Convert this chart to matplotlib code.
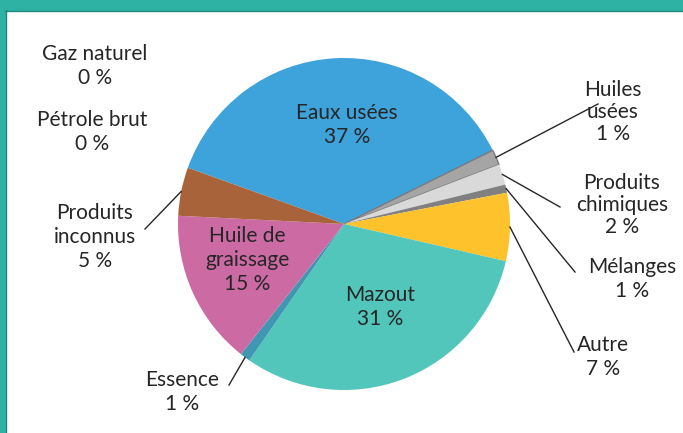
import matplotlib.pyplot as plt
import numpy as np
from matplotlib.patches import Rectangle

# data, clockwise from the first slice
categories = ['Eaux usées', 'Huiles usées', 'Produits chimiques', 'Mélanges', 'Autre',
              'Mazout', 'Essence', 'Huile de graissage', 'Produits inconnus',
              'Pétrole brut', 'Gaz naturel']
values = [37.1, 1.5, 2.0, 0.8, 6.6, 31.0, 1.0, 15.1, 4.7, 0.0, 0.0]
pct_labels = ['37 %', '1 %', '2 %', '1 %', '7 %', '31 %', '1 %', '15 %', '5 %', '0 %', '0 %']
colors = ['#3ea3db', '#a5a5a5', '#d9d9d9', '#808080', '#fec32c',
          '#52c6bb', '#3f97b2', '#cc6aa3', '#a8633a', '#888888', '#888888']

W, H = 683, 433
fig = plt.figure(figsize=(W / 100, H / 100), dpi=100)
ax = fig.add_axes([0, 0, 1, 1])
plt.rcParams['font.family'] = ['Lato', 'DejaVu Sans']

cx, cy, R = 344, H - 224, 166
wedges, _ = ax.pie(values, colors=colors, startangle=160.2, counterclock=False,
                   center=(cx, cy), radius=R,
                   wedgeprops=dict(linewidth=0, antialiased=True))
# thin darker border on the small grey slice, as in the source
wedges[1].set_edgecolor('#7a7a7a')
wedges[1].set_linewidth(1.0)

ax.set_xlim(0, W)
ax.set_ylim(0, H)
ax.set_aspect('equal')
ax.axis('off')

def img(x, y):
    return x, H - y

txt = dict(fontsize=15, color='#262626', ha='center', va='center', linespacing=1.28)

# label text position (centre of block) in image pixel coords
label_pos = {
    'Gaz naturel': (95, 66),
    'Pétrole brut': (92, 132),
    'Produits inconnus': (95, 237),
    'Huile de graissage': (247, 260),
    'Eaux usées': (347, 125),
    'Mazout': (380, 307),
    'Essence': (182, 392),
    'Huiles usées': (613, 112),
    'Produits chimiques': (622, 205),
    'Mélanges': (632, 279),
    'Autre': (603, 357),
}
wrapped = {
    'Produits inconnus': 'Produits\ninconnus',
    'Huile de graissage': 'Huile de\ngraissage',
    'Huiles usées': 'Huiles\nusées',
    'Produits chimiques': 'Produits\nchimiques',
}
for name, p in zip(categories, pct_labels):
    x, y = label_pos[name]
    ls = 1.12 if name in wrapped and name != 'Huile de graissage' and name != 'Produits inconnus' else 1.28
    ax.text(*img(x, y), wrapped.get(name, name) + '\n' + p, **{**txt, 'linespacing': ls})

# leader lines: from slice middle to near the label
leader_end = {
    'Huiles usées': (598, 104),
    'Produits chimiques': (560, 207),
    'Mélanges': (575, 272),
    'Autre': (574, 352),
    'Produits inconnus': (145, 229),
    'Essence': (229, 385),
}
for w, name in zip(wedges, categories):
    if name in leader_end:
        a = np.deg2rad((w.theta1 + w.theta2) / 2)
        x0, y0 = cx + R * np.cos(a), cy + R * np.sin(a)
        x1, y1 = img(*leader_end[name])
        ax.plot([x0, x1], [y0, y1], color='#262626', lw=1)

# teal frame on top and left
fig.patches.append(Rectangle((0, 1 - 10 / H), 1, 10 / H, transform=fig.transFigure,
                             color='#2db2a4', zorder=0))
fig.patches.append(Rectangle((0, 0), 5 / W, 1, transform=fig.transFigure,
                             color='#2db2a4', zorder=0))
fig.lines.append(plt.Line2D([5 / W, 1], [1 - 10.5 / H, 1 - 10.5 / H], transform=fig.transFigure,
                            color='#23887d', lw=1))
fig.lines.append(plt.Line2D([5.5 / W, 5.5 / W], [0, 1 - 10 / H], transform=fig.transFigure,
                            color='#23887d', lw=1))

fig.savefig('out.png', dpi=100)
